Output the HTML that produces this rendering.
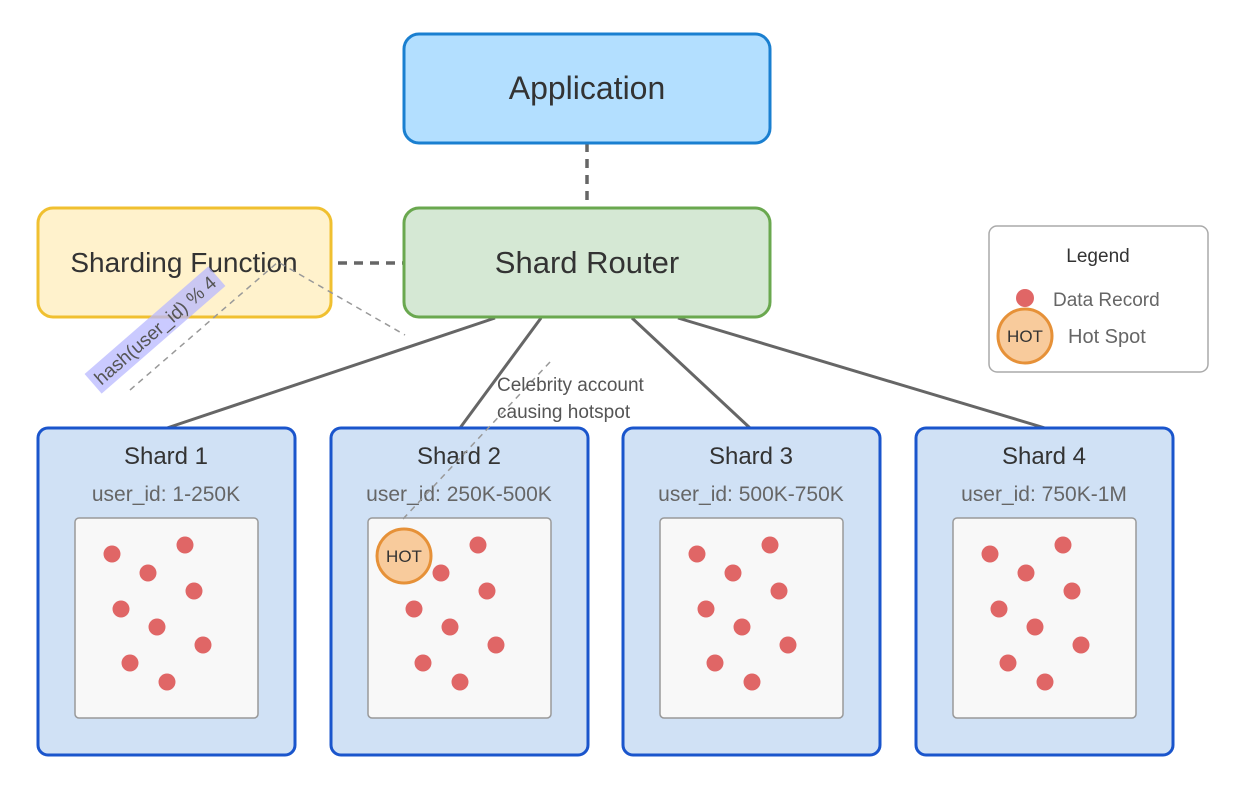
<!DOCTYPE html>
<html><head><meta charset="utf-8"><style>
html,body{margin:0;padding:0;background:#fff;}
svg{display:block;font-family:"Liberation Sans",sans-serif;}
</style></head><body>
<svg width="1246" height="804" viewBox="0 0 1246 804" xmlns="http://www.w3.org/2000/svg">
<defs>
<g id="dots">
<circle cx="112" cy="554" r="8.5" fill="#e06666"/>
<circle cx="185" cy="545" r="8.5" fill="#e06666"/>
<circle cx="148" cy="573" r="8.5" fill="#e06666"/>
<circle cx="194" cy="591" r="8.5" fill="#e06666"/>
<circle cx="121" cy="609" r="8.5" fill="#e06666"/>
<circle cx="157" cy="627" r="8.5" fill="#e06666"/>
<circle cx="203" cy="645" r="8.5" fill="#e06666"/>
<circle cx="130" cy="663" r="8.5" fill="#e06666"/>
<circle cx="167" cy="682" r="8.5" fill="#e06666"/>
</g>
<g id="shard">
<rect x="38" y="428" width="257" height="327" rx="10" fill="#d0e1f5" stroke="#1a55cc" stroke-width="3"/>
<rect x="75" y="518" width="183" height="200" rx="4" fill="#f8f8f8" stroke="#999" stroke-width="1.5"/>
<use href="#dots"/>
</g>
</defs>
<line x1="587" y1="143" x2="587" y2="208" stroke="#666" stroke-width="3.5" stroke-dasharray="9,7"/>
<line x1="338" y1="263" x2="404" y2="263" stroke="#666" stroke-width="3.5" stroke-dasharray="9,7"/>
<g stroke="#666" stroke-width="3">
<line x1="495" y1="318" x2="167" y2="428"/>
<line x1="541" y1="318" x2="460" y2="428"/>
<line x1="632" y1="318" x2="750" y2="428"/>
<line x1="678" y1="318" x2="1045" y2="428"/>
</g>
<rect x="404" y="34" width="366" height="109" rx="15" fill="#b3dfff" stroke="#1a7fd0" stroke-width="3"/>
<text x="587" y="99" font-size="32" text-anchor="middle" fill="#333">Application</text>
<rect x="404" y="208" width="366" height="109" rx="15" fill="#d5e8d4" stroke="#6aa84f" stroke-width="3"/>
<text x="587" y="273" font-size="31" text-anchor="middle" fill="#333">Shard Router</text>
<rect x="38" y="208" width="293" height="109" rx="15" fill="#fff2cc" stroke="#f0c030" stroke-width="3"/>
<text x="184" y="272" font-size="28" text-anchor="middle" fill="#333">Sharding Function</text>
<polyline points="130,390 278,262 405,335" fill="none" stroke="#999" stroke-width="1.5" stroke-dasharray="6,5"/>
<g transform="translate(155,330) rotate(-41)">
<rect x="-82" y="-13" width="164" height="26" fill="#b8b8ff" opacity="0.75"/>
<text x="0" y="7" font-size="19" text-anchor="middle" fill="#555">hash(user_id) % 4</text>
</g>
<use href="#shard"/>
<use href="#shard" transform="translate(293,0)"/>
<use href="#shard" transform="translate(585,0)"/>
<use href="#shard" transform="translate(878,0)"/>
<g font-size="24" fill="#333" text-anchor="middle">
<text x="166" y="464">Shard 1</text>
<text x="459" y="464">Shard 2</text>
<text x="751" y="464">Shard 3</text>
<text x="1044" y="464">Shard 4</text>
</g>
<g font-size="21" fill="#666" text-anchor="middle">
<text x="166" y="501">user_id: 1-250K</text>
<text x="459" y="501">user_id: 250K-500K</text>
<text x="751" y="501">user_id: 500K-750K</text>
<text x="1044" y="501">user_id: 750K-1M</text>
</g>
<line x1="550" y1="362" x2="403" y2="519" stroke="#999" stroke-width="1.5" stroke-dasharray="6,5"/>
<circle cx="404" cy="556" r="27" fill="#f8cb9c" stroke="#e69138" stroke-width="3"/>
<text x="404" y="562" font-size="17" text-anchor="middle" fill="#333">HOT</text>
<text x="497" y="391" font-size="19" fill="#555">Celebrity account</text>
<text x="497" y="418" font-size="19" fill="#555">causing hotspot</text>
<rect x="989" y="226" width="219" height="146" rx="8" fill="#fff" stroke="#aaa" stroke-width="1.5"/>
<text x="1098" y="262" font-size="19" text-anchor="middle" fill="#333">Legend</text>
<circle cx="1025" cy="298" r="9" fill="#e06666"/>
<text x="1053" y="306" font-size="19" fill="#666">Data Record</text>
<circle cx="1025" cy="336" r="27" fill="#f8cb9c" stroke="#e69138" stroke-width="3"/>
<text x="1025" y="342" font-size="17" text-anchor="middle" fill="#333">HOT</text>
<text x="1068" y="343" font-size="20" fill="#666">Hot Spot</text>
</svg>
</body></html>
